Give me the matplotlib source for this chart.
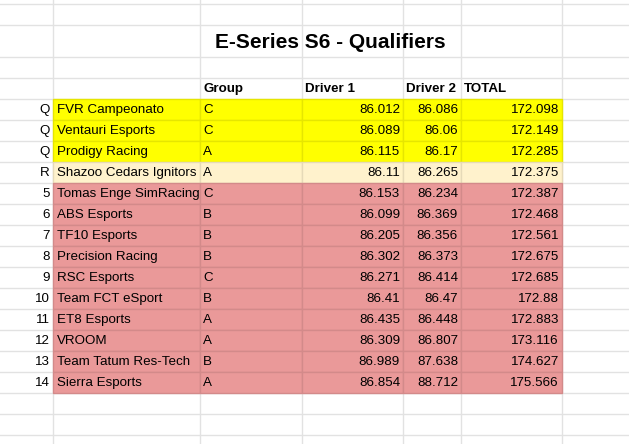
import matplotlib.pyplot as plt
from matplotlib.patches import Rectangle

title = "E-Series S6 - Qualifiers"
headers = ["Group", "Driver 1", "Driver 2", "TOTAL"]
marks = ["Q", "Q", "Q", "R", "5", "6", "7", "8", "9", "10", "11", "12", "13", "14"]
teams = ["FVR Campeonato", "Ventauri Esports", "Prodigy Racing", "Shazoo Cedars Ignitors",
         "Tomas Enge SimRacing", "ABS Esports", "TF10 Esports", "Precision Racing",
         "RSC Esports", "Team FCT eSport", "ET8 Esports", "VROOM",
         "Team Tatum Res-Tech", "Sierra Esports"]
groups = ["C", "C", "A", "A", "C", "B", "B", "B", "C", "B", "A", "A", "B", "A"]
driver1 = ["86.012", "86.089", "86.115", "86.11", "86.153", "86.099", "86.205", "86.302",
           "86.271", "86.41", "86.435", "86.309", "86.989", "86.854"]
driver2 = ["86.086", "86.06", "86.17", "86.265", "86.234", "86.369", "86.356", "86.373",
           "86.414", "86.47", "86.448", "86.807", "87.638", "88.712"]
total = ["172.098", "172.149", "172.285", "172.375", "172.387", "172.468", "172.561",
         "172.675", "172.685", "172.88", "172.883", "173.116", "174.627", "175.566"]

W, H = 629, 444
colx = [0, 53, 200, 302, 403, 461, 562, 629]
rowy = [-17, 4, 25, 57, 78, 99] + [99 + 21 * (i + 1) for i in range(16)]

fig = plt.figure(figsize=(W / 100, H / 100), dpi=100)
ax = fig.add_axes([0, 0, 1, 1])
ax.set_xlim(0, W)
ax.set_ylim(H, 0)
ax.axis("off")
plt.rcParams["font.family"] = "Liberation Sans"

grid = "#e2e2e2"
for x in colx[1:-1]:
    ax.plot([x, x], [0, H], color=grid, lw=1)
for y in rowy[1:]:
    ax.plot([0, W], [y, y], color=grid, lw=1)

def fill(i):
    if marks[i] == "Q":
        return "#ffff00", "#e6e600"
    if marks[i] == "R":
        return "#fff2cc", "#e6dab8"
    return "#ea9999", "#d38a8a"

fs = 9.6
top = rowy[5]
for i in range(len(teams)):
    y0 = top + 21 * i
    fc, ec = fill(i)
    for c in range(1, 6):
        ax.add_patch(Rectangle((colx[c], y0), colx[c + 1] - colx[c], 21,
                               facecolor=fc, edgecolor=ec, lw=1, zorder=2))
    yc = y0 + 11
    ax.text(colx[1] - 3, yc, marks[i], ha="right", va="center", fontsize=fs, zorder=3)
    ax.text(colx[1] + 4, yc, teams[i], ha="left", va="center", fontsize=fs, zorder=3)
    ax.text(colx[2] + 3, yc, groups[i], ha="left", va="center", fontsize=fs, zorder=3)
    ax.text(colx[4] - 3, yc, driver1[i], ha="right", va="center", fontsize=fs, zorder=3)
    ax.text(colx[5] - 3, yc, driver2[i], ha="right", va="center", fontsize=fs, zorder=3)
    ax.text(colx[6] - 3, yc, total[i], ha="right", va="center", fontsize=fs, zorder=3)

for c, h in zip([2, 3, 4, 5], headers):
    ax.text(colx[c] + 3, 89, h, ha="left", va="center", fontsize=fs, fontweight="bold")

ax.text(330, 42, title, ha="center", va="center", fontsize=15, fontweight="bold")

fig.savefig("out.png", dpi=100)
